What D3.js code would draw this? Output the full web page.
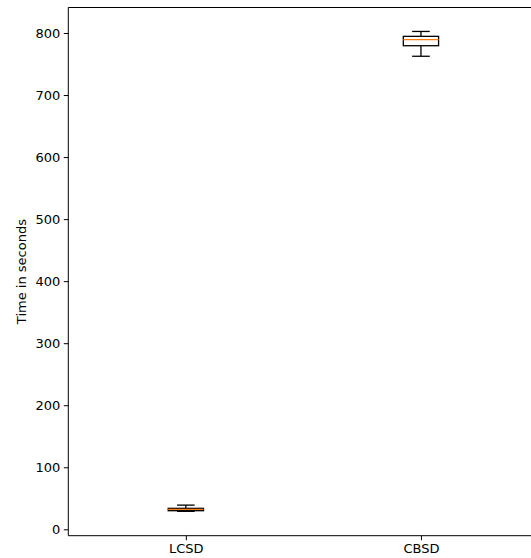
<!DOCTYPE html>
<html>
<head>
<meta charset="utf-8">
<script src="https://cdn.jsdelivr.net/npm/d3@7"></script>
<style>
  html, body { margin: 0; padding: 0; background: #fff; }
  svg { display: block; }
  text { font-family: "DejaVu Sans", sans-serif; fill: #000; }
</style>
</head>
<body>
<svg id="chart" width="531" height="558"></svg>
<script>
// Run-time summary statistics per method (seconds)
const categories   = ["LCSD", "CBSD"];
const whiskerLow   = [29.0, 762.5];
const quartile1    = [30.0, 779.5];
const medians      = [32.2, 789.2];
const quartile3    = [33.8, 794.6];
const whiskerHigh  = [39.0, 802.5];
const yTicks       = [0, 100, 200, 300, 400, 500, 600, 700, 800];
const yLabel       = "Time in seconds";

const svg = d3.select("#chart");
const frame = { left: 68.3, right: 538.5, top: 7.5, bottom: 535.7 };

const x = d3.scaleLinear().domain([0.5, 2.5]).range([frame.left, frame.right]);
const y = d3.scaleLinear().domain([-10.3, 841.1]).range([frame.bottom, frame.top]);

const boxW = 0.15, capW = 0.075;

const boxes = categories.map((c, i) => ({
  name: c, pos: i + 1,
  lo: whiskerLow[i], q1: quartile1[i], med: medians[i], q3: quartile3[i], hi: whiskerHigh[i]
}));

const g = svg.append("g");
const stroke = "#000";

boxes.forEach(b => {
  const gb = g.append("g");
  // whiskers
  gb.append("line").attr("x1", x(b.pos)).attr("x2", x(b.pos))
    .attr("y1", y(b.q1)).attr("y2", y(b.lo)).attr("stroke", stroke).attr("stroke-width", 1.3);
  gb.append("line").attr("x1", x(b.pos)).attr("x2", x(b.pos))
    .attr("y1", y(b.q3)).attr("y2", y(b.hi)).attr("stroke", stroke).attr("stroke-width", 1.3);
  // caps
  [b.lo, b.hi].forEach(v => {
    gb.append("line").attr("x1", x(b.pos - capW / 2)).attr("x2", x(b.pos + capW / 2))
      .attr("y1", y(v)).attr("y2", y(v)).attr("stroke", stroke).attr("stroke-width", 1.3);
  });
  // box
  gb.append("rect")
    .attr("x", x(b.pos - boxW / 2)).attr("width", x(b.pos + boxW / 2) - x(b.pos - boxW / 2))
    .attr("y", y(b.q3)).attr("height", y(b.q1) - y(b.q3))
    .attr("fill", "none").attr("stroke", stroke).attr("stroke-width", 1.3);
  // median
  gb.append("line").attr("x1", x(b.pos - boxW / 2)).attr("x2", x(b.pos + boxW / 2))
    .attr("y1", y(b.med)).attr("y2", y(b.med)).attr("stroke", "#ff7f0e").attr("stroke-width", 1.3);
});

// axes
const yAxis = d3.axisLeft(y).tickValues(yTicks).tickSize(4.5).tickPadding(3.5);
const ya = svg.append("g").attr("transform", `translate(${frame.left},0)`).call(yAxis);
const xAxis = d3.axisBottom(x).tickValues(boxes.map(b => b.pos))
  .tickFormat((d, i) => categories[i]).tickSize(4.5).tickPadding(3.5);
const xa = svg.append("g").attr("transform", `translate(0,${frame.bottom})`).call(xAxis);

[ya, xa].forEach(a => {
  a.select(".domain").remove();
  a.selectAll(".tick line").attr("stroke", "#000").attr("stroke-width", 1);
  a.selectAll(".tick text").style("font-family", "DejaVu Sans, sans-serif")
    .style("font-size", "13px").attr("fill", "#000");
});

// spines
svg.append("path")
  .attr("d", `M${frame.right},${frame.top}H${frame.left}V${frame.bottom}H${frame.right}`)
  .attr("fill", "none").attr("stroke", "#000").attr("stroke-width", 1);

// y label
svg.append("text")
  .attr("transform", `translate(25.5,${(frame.top + frame.bottom) / 2}) rotate(-90)`)
  .attr("text-anchor", "middle")
  .style("font-size", "13px")
  .text(yLabel);
</script>
</body>
</html>
